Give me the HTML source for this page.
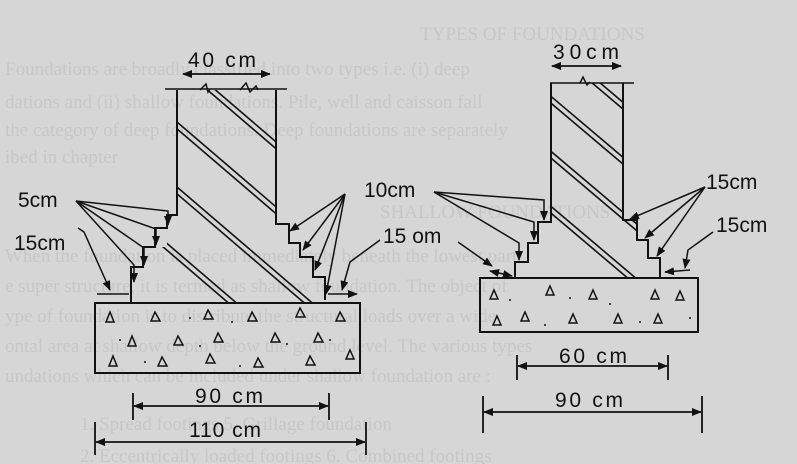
<!DOCTYPE html>
<html><head><meta charset="utf-8"><style>
html,body{margin:0;padding:0;background:#d6d6d6;}
svg{display:block;font-family:"Liberation Sans",sans-serif;}
.ghost{fill:#c7c7c7;font-family:"Liberation Serif",serif;font-size:19px;}
.lbl{fill:#111;font-size:21px;}
</style></head><body>
<svg width="797" height="464" viewBox="0 0 797 464">
<defs>
<marker id="a" markerWidth="10" markerHeight="8" refX="9" refY="4" orient="auto" markerUnits="userSpaceOnUse"><path d="M0,0 L10,4 L0,8 Z" fill="#111"/></marker>
<marker id="s" markerWidth="10" markerHeight="8" refX="1" refY="4" orient="auto" markerUnits="userSpaceOnUse"><path d="M10,0 L0,4 L10,8 Z" fill="#111"/></marker>
<clipPath id="c1"><polygon points="177,90 276,90 276,224 289,224 289,243 300,243 300,257 313,257 313,277 325,277 325,303 131,303 131,283 143,283 143,267 155,267 155,247 167,247 167,228 177,228"/></clipPath>
<clipPath id="c2"><polygon points="551,83 623,83 623,220 637,220 637,240 648,240 648,258 660,258 660,278 515,278 515,262 528,262 528,243 538,243 538,222 551,222"/></clipPath>
</defs>
<rect width="797" height="464" fill="#d6d6d6"/>
<g class="ghost">
<text x="420" y="40">TYPES OF FOUNDATIONS</text>
<text x="5" y="75">Foundations are broadly classified into two types i.e. (i) deep</text>
<text x="5" y="108">dations and (ii) shallow foundations. Pile, well and caisson fall</text>
<text x="5" y="136">the category of deep foundations. Deep foundations are separately</text>
<text x="5" y="163">ibed in chapter</text>
<text x="380" y="218">SHALLOW FOUNDATIONS</text>
<text x="5" y="262">When the foundation is placed immediately beneath the lowest part</text>
<text x="5" y="292">e super structure, it is termed as shallow foundation. The object of</text>
<text x="5" y="322">ype of foundation is to distribute the structural loads over a wide</text>
<text x="5" y="352">ontal area at shallow depth below the ground level. The various types</text>
<text x="5" y="382">undations which can be included under shallow foundation are :</text>
<text x="80" y="430">1. Spread footings      5. Grillage foundation</text>
<text x="80" y="462">2. Eccentrically loaded footings  6. Combined footings</text>
</g>
<g stroke="#111" fill="none" stroke-width="2">
<g clip-path="url(#c1)" stroke-width="1.6">
<path d="M120,80 L400,320 M128,80 L408,320 M120,145 L400,385 M128,145 L408,385 M120,210 L400,450 M128,210 L408,450 M120,15 L400,255 M128,15 L408,255 M120,-50 L400,190 M128,-50 L408,190"/>
</g>
<polyline points="177,215 177,90"/>
<polyline points="276,90 276,224 289,224 289,243 300,243 300,257 313,257 313,277 325,277 325,300"/>
<polyline points="177,212 177,215 167,215 167,228 155,228 155,247 143,247 143,267 131,267 131,283 131,303"/>
<line x1="165" y1="89" x2="287" y2="89" stroke-width="1.5"/>
<path d="M200,90 L206,84 L208,92 L210,89" stroke-width="1.5"/>
<path d="M240,90 L246,83 L250,92 L256,86 L258,90" stroke-width="1.5"/>
<rect x="95" y="303" width="265" height="70"/>
<g clip-path="url(#c2)" stroke-width="1.6">
<path d="M500,60 L760,280 M508,60 L768,280 M500,115 L760,335 M508,115 L768,335 M500,170 L760,390 M508,170 L768,390 M500,5 L760,225 M508,5 L768,225 M500,-50 L760,170 M508,-50 L768,170"/>
</g>
<polyline points="551,83 551,222 538,222 538,243 528,243 528,262 515,262 515,278"/>
<polyline points="623,83 623,220 637,220 637,240 648,240 648,258 660,258 660,278"/>
<line x1="550" y1="83" x2="634" y2="83" stroke-width="1.5"/>
<path d="M580,83 L583,77 L587,85 L590,82" stroke-width="1.5"/>
<rect x="480" y="278" width="218" height="54"/>
<g stroke-width="1.8">
<line x1="183" y1="74" x2="270" y2="74" marker-start="url(#s)" marker-end="url(#a)"/>
<line x1="552" y1="66" x2="621" y2="66" marker-start="url(#s)" marker-end="url(#a)"/>
<line x1="133" y1="393" x2="133" y2="420"/><line x1="329" y1="393" x2="329" y2="420"/>
<line x1="134" y1="406" x2="328" y2="406" marker-start="url(#s)" marker-end="url(#a)"/>
<line x1="95" y1="422" x2="95" y2="455"/><line x1="366" y1="422" x2="366" y2="455"/>
<line x1="96" y1="442" x2="365" y2="442" marker-start="url(#s)" marker-end="url(#a)"/>
<line x1="517" y1="355" x2="517" y2="380"/><line x1="668" y1="355" x2="668" y2="380"/>
<line x1="518" y1="366" x2="667" y2="366" marker-start="url(#s)" marker-end="url(#a)"/>
<line x1="483" y1="396" x2="483" y2="433"/><line x1="702" y1="396" x2="702" y2="433"/>
<line x1="484" y1="412" x2="701" y2="412" marker-start="url(#s)" marker-end="url(#a)"/>
</g>
<g stroke-width="1.5">
<polyline points="76,201 168,211 168,225" marker-end="url(#a)"/>
<polyline points="76,201 156,229 156,245" marker-end="url(#a)"/>
<polyline points="76,201 144,248 144,265" marker-end="url(#a)"/>
<polyline points="76,201 134,265 134,282" marker-end="url(#a)"/>
<path d="M78,228 L84,232 L110,290" marker-end="url(#a)"/>
<line x1="97" y1="294" x2="129" y2="294"/>
<line x1="345" y1="194" x2="290" y2="231" marker-end="url(#a)"/>
<line x1="345" y1="194" x2="303" y2="250" marker-end="url(#a)"/>
<line x1="345" y1="194" x2="315" y2="270" marker-end="url(#a)"/>
<line x1="345" y1="194" x2="326" y2="294" marker-end="url(#a)"/>
<path d="M380,240 L350,262 L342,290" marker-end="url(#a)"/>
<line x1="328" y1="294" x2="357" y2="294" marker-end="url(#a)"/>
<polyline points="434,192 544,200 544,220" marker-end="url(#a)"/>
<polyline points="434,192 534,222 534,240" marker-end="url(#a)"/>
<polyline points="434,192 519,243 519,260" marker-end="url(#a)"/>
<line x1="458" y1="242" x2="492" y2="266" marker-end="url(#a)"/>
<line x1="490" y1="271" x2="512" y2="276" marker-start="url(#s)" marker-end="url(#a)"/>
<line x1="705" y1="187" x2="630" y2="219" marker-end="url(#a)"/>
<line x1="705" y1="187" x2="645" y2="238" marker-end="url(#a)"/>
<line x1="705" y1="187" x2="657" y2="256" marker-end="url(#a)"/>
<path d="M713,232 L688,250 L685,268" marker-end="url(#a)"/>
<line x1="690" y1="270" x2="665" y2="272" marker-end="url(#a)"/>
</g>
<g stroke-width="1.5">
<path d="M110,312 l4,10 h-8z M155,312 l5,9 h-9z M208,310 l5,9 h-9z M252,312 l5,9 h-9z M300,308 l5,9 h-9z M340,312 l5,9 h-9z M132,336 l4,10 h-8z M178,336 l5,9 h-9z M218,333 l5,9 h-9z M275,333 l5,9 h-9z M318,333 l5,9 h-9z M350,350 l4,9 h-8z M113,356 l4,10 h-8z M162,357 l5,9 h-9z M210,354 l5,9 h-9z M258,358 l5,9 h-9z M310,356 l5,9 h-9z"/>
<path d="M494,290 l4,9 h-8z M550,286 l4,9 h-8z M593,290 l4,9 h-8z M655,290 l4,9 h-8z M680,291 l4,9 h-8z M525,312 l4,9 h-8z M497,316 l4,9 h-8z M573,314 l4,9 h-8z M618,314 l4,9 h-8z M658,314 l4,9 h-8z"/>
</g>
</g>
<g fill="#111">
<circle cx="120" cy="340" r="1"/><circle cx="190" cy="318" r="1"/><circle cx="232" cy="322" r="1"/><circle cx="287" cy="344" r="1"/><circle cx="145" cy="362" r="1"/><circle cx="240" cy="366" r="1"/><circle cx="330" cy="340" r="1"/><circle cx="200" cy="346" r="1"/>
<circle cx="510" cy="300" r="1"/><circle cx="570" cy="298" r="1"/><circle cx="610" cy="304" r="1"/><circle cx="640" cy="322" r="1"/><circle cx="545" cy="325" r="1"/><circle cx="690" cy="318" r="1"/>
</g>
<g class="lbl">
<text x="188" y="67" textLength="68">40 cm</text>
<text x="553" y="59" textLength="66">30cm</text>
<text x="18" y="207">5cm</text>
<text x="14" y="250">15cm</text>
<text x="364" y="197">10cm</text>
<text x="383" y="243">15 om</text>
<text x="706" y="189">15cm</text>
<text x="716" y="232">15cm</text>
<text x="195" y="403" textLength="68">90 cm</text>
<text x="189" y="437" textLength="72">110 cm</text>
<text x="559" y="363" textLength="68">60 cm</text>
<text x="555" y="407" textLength="68">90 cm</text>
</g>
</svg>
</body></html>
